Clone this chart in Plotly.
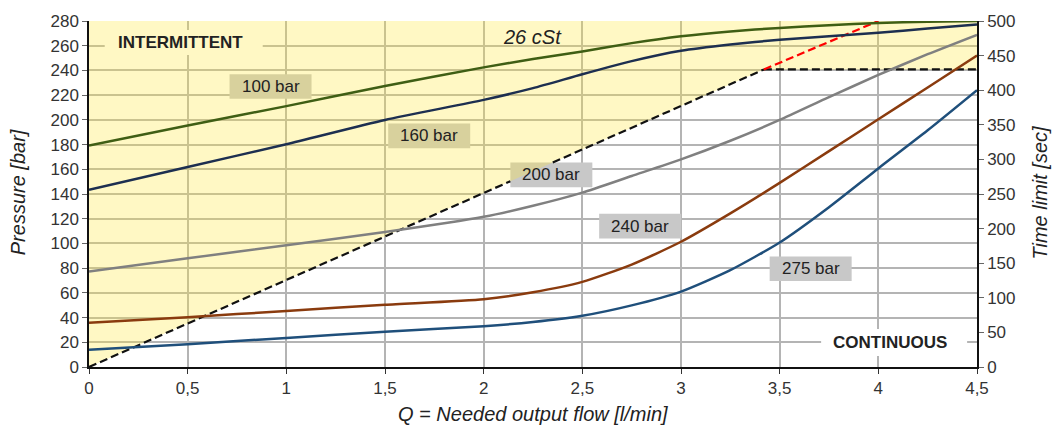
import plotly.graph_objects as go

# ---- data ----
flow = [0, 0.5, 1, 1.5, 2, 2.25, 2.5, 2.75, 3, 3.25, 3.5, 3.75, 4, 4.25, 4.5]
t_100 = [320, 349, 377, 406, 433, 445, 456, 468, 478, 485, 490, 494, 497, 499, 500]
t_160 = [256, 289, 322, 357, 386, 403, 423, 442, 457, 466, 473, 478, 483, 489, 495]
t_200 = [138, 157, 176, 195, 217, 233, 252, 276, 300, 327, 357, 390, 422, 452, 480]
t_240 = [64, 72, 81, 90, 98, 108, 123, 148, 181, 222, 266, 312, 358, 404, 450]
t_275 = [25, 33, 42, 51, 59, 65, 74, 89, 109, 140, 180, 231, 287, 342, 400]

series_names = ["100 bar", "160 bar", "200 bar", "240 bar", "275 bar"]
series_vals = [t_100, t_160, t_200, t_240, t_275]
series_colors = ["#3f5e14", "#1d2f50", "#808080", "#8a3b0e", "#1f4f7b"]

# limit between intermittent and continuous (time limit, sec)
limit_x = [0, 3.42]
limit_y = [0, 430]
red_x = [3.42, 4.0]
red_y = [430, 500]
hlimit_x = [3.42, 4.5]
hlimit_y = [430, 430]
region_x = [0, 3.42, 4.5, 4.5, 0, 0]
region_y = [0, 430, 430, 500, 500, 0]

# labels (x in l/min, y in bar on left axis)
label_text = ["100 bar", "160 bar", "200 bar", "240 bar", "275 bar"]
label_x = [0.92, 1.724, 2.343, 2.793, 3.657]
label_y = [227, 187, 155.5, 114, 79.5]

x_ticks = [0, 0.5, 1, 1.5, 2, 2.5, 3, 3.5, 4, 4.5]
x_ticktext = ["0", "0,5", "1", "1,5", "2", "2,5", "3", "3,5", "4", "4,5"]
y_ticks = list(range(0, 281, 20))
y2_ticks = list(range(0, 501, 50))

FONT = "Liberation Sans, Arial, sans-serif"

W, H = 1054, 428
ML, MR, MT, MB = 89, 77, 16, 61
X_MAX, Y_MAX, Y2_MAX = 4.5, 280, 500
px_per_x = (W - ML - MR) / X_MAX
px_per_y2 = (H - MT - MB) / Y2_MAX
BOX_HW, BOX_HH = 41, 12.5  # label box half size in pixels

# label boxes in (x, sec) coordinates
boxes = []
for lx, ly in zip(label_x, label_y):
    cy = ly * Y2_MAX / Y_MAX
    dx = BOX_HW / px_per_x
    dy = BOX_HH / px_per_y2
    boxes.append((lx - dx, lx + dx, cy - dy, cy + dy))


def clip_out(xs, ys, rects):
    """Return x/y lists of a segment with the parts hidden by rects removed."""
    x0, x1 = xs
    y0, y1 = ys
    hidden = []
    for (bx0, bx1, by0, by1) in rects:
        t0, t1 = 0.0, 1.0
        ok = True
        for p, q in ((-(x1 - x0), x0 - bx0), (x1 - x0, bx1 - x0),
                     (-(y1 - y0), y0 - by0), (y1 - y0, by1 - y0)):
            if p == 0:
                if q < 0:
                    ok = False
            else:
                r = q / p
                if p < 0:
                    t0 = max(t0, r)
                else:
                    t1 = min(t1, r)
        if ok and t0 < t1:
            hidden.append((t0, t1))
    hidden.sort()
    pieces, start = [], 0.0
    for a, b in hidden:
        if a > start:
            pieces.append((start, a))
        start = max(start, b)
    if start < 1.0:
        pieces.append((start, 1.0))
    ox, oy = [], []
    for a, b in pieces:
        ox += [x0 + a * (x1 - x0), x0 + b * (x1 - x0), None]
        oy += [y0 + a * (y1 - y0), y0 + b * (y1 - y0), None]
    return ox, oy


fig = go.Figure()

# label boxes (under the yellow tint)
annotations = []
for t, lx, ly, (bx0, bx1, by0, by1) in zip(label_text, label_x, label_y, boxes):
    fig.add_trace(go.Scatter(
        x=[bx0, bx1, bx1, bx0, bx0], y=[by0, by0, by1, by1, by0],
        yaxis="y2", mode="lines", fill="toself", fillcolor="#c8c8c8",
        line=dict(width=0), hoverinfo="skip", showlegend=False))
    annotations.append(dict(text=t, x=lx, y=ly, xref="x", yref="y",
                            showarrow=False, font=dict(family=FONT, size=17, color="#222")))

# yellow intermittent region
fig.add_trace(go.Scatter(
    x=region_x, y=region_y, yaxis="y2", mode="lines", fill="toself",
    fillcolor="rgba(255,232,58,0.30)", line=dict(width=0), hoverinfo="skip",
    showlegend=False))

# dashed limit lines (parts behind label boxes left out)
dash_style = dict(width=2.2, dash="8px,4px")
lx_c, ly_c = clip_out(limit_x, limit_y, boxes)
fig.add_trace(go.Scatter(x=lx_c, y=ly_c, yaxis="y2", mode="lines", connectgaps=False,
                         line=dict(color="#111111", **dash_style), showlegend=False))
fig.add_trace(go.Scatter(x=hlimit_x, y=hlimit_y, yaxis="y2", mode="lines",
                         line=dict(color="#111111", **dash_style), showlegend=False))
fig.add_trace(go.Scatter(x=red_x, y=red_y, yaxis="y2", mode="lines",
                         line=dict(color="#ff0000", **dash_style), showlegend=False))

for name, vals, col in zip(series_names, series_vals, series_colors):
    fig.add_trace(go.Scatter(
        x=flow, y=vals, yaxis="y2", mode="lines", name=name,
        line=dict(color=col, width=2.5, shape="spline", smoothing=0.6),
        showlegend=False))

# INTERMITTENT / CONTINUOUS label backgrounds (hide grid lines)
shapes = [
    dict(type="rect", layer="between", xref="x", yref="y",
         xsizemode="pixel", ysizemode="pixel", xanchor=0.48, yanchor=262.7,
         x0=-79, x1=79, y0=-12.5, y1=12.5, fillcolor="white", line=dict(width=0)),
    dict(type="rect", layer="between", xref="x", yref="y",
         xsizemode="pixel", ysizemode="pixel", xanchor=4.08, yanchor=19.8,
         x0=-73, x1=73, y0=-13.5, y1=13.5, fillcolor="white", line=dict(width=0)),
]

annotations += [
    dict(text="<b>INTERMITTENT</b>", x=0.466, y=262.7, xref="x", yref="y", showarrow=False,
         font=dict(family=FONT, size=17, color="#222")),
    dict(text="<b>CONTINUOUS</b>", x=4.06, y=19.8, xref="x", yref="y", showarrow=False,
         font=dict(family=FONT, size=17, color="#222")),
    dict(text="<i>26 cSt</i>", x=2.245, y=267, xref="x", yref="y", showarrow=False,
         font=dict(family=FONT, size=20, color="#222")),
    dict(text="<i>Pressure [bar]</i>", x=-0.080, y=0.505, xref="paper", yref="paper",
         xanchor="center", yanchor="middle",
         showarrow=False, textangle=-90, font=dict(family=FONT, size=20, color="#222")),
    dict(text="<i>Time limit [sec]</i>", x=1.0713, y=0.505, xref="paper", yref="paper",
         xanchor="center", yanchor="middle",
         showarrow=False, textangle=-90, font=dict(family=FONT, size=20, color="#222")),
    dict(text="<i>Q = Needed output flow [l/min]</i>", x=0.5, y=-0.136,
         xref="paper", yref="paper", xanchor="center", yanchor="middle", showarrow=False,
         font=dict(family=FONT, size=20, color="#222")),
]

fig.update_layout(
    width=W, height=H,
    margin=dict(l=ML, r=MR, t=MT, b=MB),
    paper_bgcolor="white", plot_bgcolor="white",
    font=dict(family=FONT, size=17, color="#333"),
    xaxis=dict(range=[0, X_MAX], tickvals=x_ticks, ticktext=x_ticktext,
               showgrid=True, gridcolor="#b4b4b4", gridwidth=1.5,
               showline=True, linecolor="#111", linewidth=1.5,
               ticks="outside", ticklen=5, tickcolor="#333", zeroline=False,
               tickfont=dict(size=17, color="#333")),
    yaxis=dict(range=[0, Y_MAX], tickvals=y_ticks,
               showgrid=True, gridcolor="#b4b4b4", gridwidth=1.5,
               showline=True, linecolor="#111", linewidth=1.5,
               ticks="outside", ticklen=5, tickcolor="#666", zeroline=False,
               tickfont=dict(size=17, color="#333")),
    yaxis2=dict(range=[0, Y2_MAX], tickvals=y2_ticks, overlaying="y", side="right",
                showgrid=False, showline=True, linecolor="#111", linewidth=1.5,
                ticks="outside", ticklen=5, tickcolor="#666", zeroline=False,
                tickfont=dict(size=17, color="#333")),
    shapes=shapes, annotations=annotations,
)

fig.write_html("out.html", config={"displayModeBar": False},
               post_script="document.body.style.margin='0px';")
